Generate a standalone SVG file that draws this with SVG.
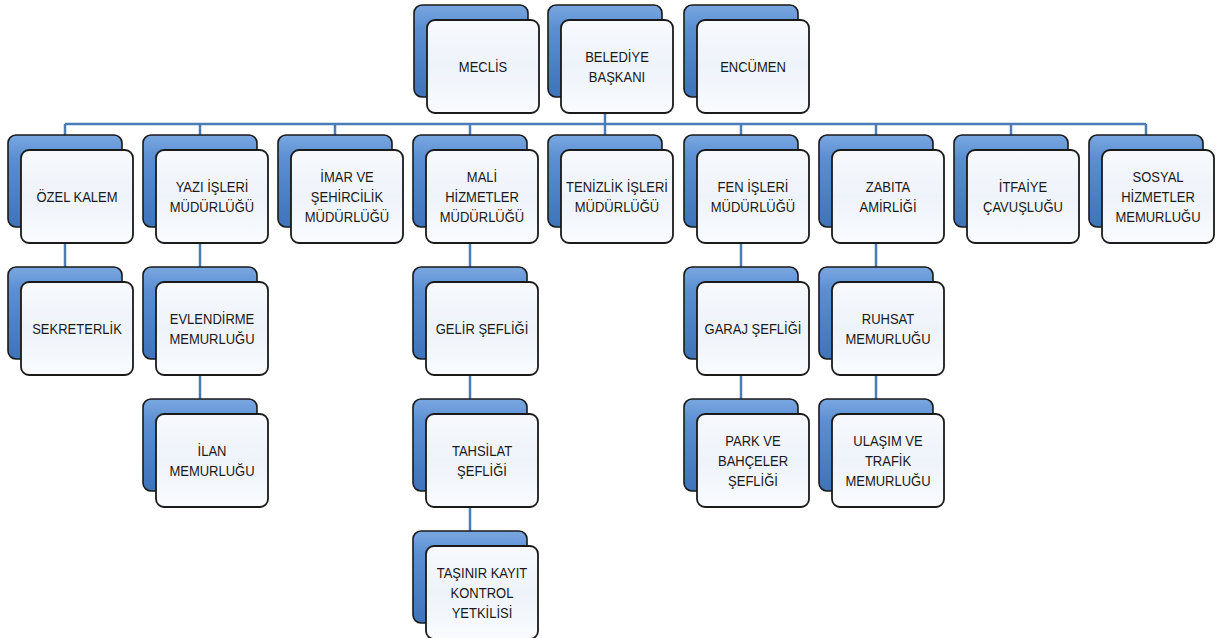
<svg xmlns="http://www.w3.org/2000/svg" width="1221" height="638" viewBox="0 0 1221 638">
<defs>
<linearGradient id="gBack" x1="0" y1="0" x2="0" y2="1">
<stop offset="0" stop-color="#7aa7e0"/>
<stop offset="0.25" stop-color="#5b8fd2"/>
<stop offset="1" stop-color="#3f73ba"/>
</linearGradient>
<linearGradient id="gFront" x1="0" y1="0" x2="0" y2="1">
<stop offset="0" stop-color="#f7f9fd"/>
<stop offset="0.5" stop-color="#eef3fa"/>
<stop offset="1" stop-color="#f9fbfe"/>
</linearGradient>
<style>
.back{fill:url(#gBack);stroke:#1a1a1a;stroke-width:1.6}
.front{fill:url(#gFront);stroke:#1a1a1a;stroke-width:1.8}
.lbl{font-family:"Liberation Sans",Arial,sans-serif;font-size:15.5px;fill:#1a1a1a;text-anchor:middle}
.con{stroke:#4a7db8;stroke-width:2.5;fill:none}
</style>
</defs>
<rect width="1221" height="638" fill="#ffffff"/>
<g id="connectors">
<path class="con" d="M605 113V124M65 124H1146M65 124V135M200 124V135M335 124V135M470 124V135M605 124V135M741 124V135M876 124V135M1011 124V135M1146 124V135"/>
<path class="con" d="M65 243V267M200 243V267M200 375V399M470 243V267M470 375V399M470 507V531M741 243V267M741 375V399M876 243V267M876 375V399"/>
</g>
<g id="meclis"><rect class="back" x="414" y="5" width="114" height="92" rx="8"/><rect class="front" x="427" y="20" width="112" height="93" rx="8"/><text class="lbl" transform="translate(483 66.5) scale(0.84 1)"><tspan x="0" y="5.5">MECLİS</tspan></text></g>
<g id="belediye-baskani"><rect class="back" x="548" y="5" width="114" height="92" rx="8"/><rect class="front" x="561" y="20" width="112" height="93" rx="8"/><text class="lbl" transform="translate(617 66.5) scale(0.84 1)"><tspan x="0" y="-4.5">BELEDİYE</tspan><tspan x="0" y="15.5">BAŞKANI</tspan></text></g>
<g id="encumen"><rect class="back" x="684" y="5" width="114" height="92" rx="8"/><rect class="front" x="697" y="20" width="112" height="93" rx="8"/><text class="lbl" transform="translate(753 66.5) scale(0.84 1)"><tspan x="0" y="5.5">ENCÜMEN</tspan></text></g>

<g id="ozel-kalem"><rect class="back" x="8" y="135" width="114" height="92" rx="8"/><rect class="front" x="21" y="150" width="112" height="93" rx="8"/><text class="lbl" transform="translate(77 196.5) scale(0.84 1)"><tspan x="0" y="5.5">ÖZEL KALEM</tspan></text></g>
<g id="yazi-isleri"><rect class="back" x="143" y="135" width="114" height="92" rx="8"/><rect class="front" x="156" y="150" width="112" height="93" rx="8"/><text class="lbl" transform="translate(212 196.5) scale(0.84 1)"><tspan x="0" y="-4.5">YAZI İŞLERİ</tspan><tspan x="0" y="15.5">MÜDÜRLÜĞÜ</tspan></text></g>
<g id="imar"><rect class="back" x="278" y="135" width="114" height="92" rx="8"/><rect class="front" x="291" y="150" width="112" height="93" rx="8"/><text class="lbl" transform="translate(347 196.5) scale(0.84 1)"><tspan x="0" y="-14.5">İMAR VE</tspan><tspan x="0" y="5.5">ŞEHİRCİLİK</tspan><tspan x="0" y="25.5">MÜDÜRLÜĞÜ</tspan></text></g>
<g id="mali-hizmetler"><rect class="back" x="413" y="135" width="114" height="92" rx="8"/><rect class="front" x="426" y="150" width="112" height="93" rx="8"/><text class="lbl" transform="translate(482 196.5) scale(0.84 1)"><tspan x="0" y="-14.5">MALİ</tspan><tspan x="0" y="5.5">HİZMETLER</tspan><tspan x="0" y="25.5">MÜDÜRLÜĞÜ</tspan></text></g>
<g id="temizlik"><rect class="back" x="548" y="135" width="114" height="92" rx="8"/><rect class="front" x="561" y="150" width="112" height="93" rx="8"/><text class="lbl" transform="translate(617 196.5) scale(0.84 1)"><tspan x="0" y="-4.5">TENİZLİK İŞLERİ</tspan><tspan x="0" y="15.5">MÜDÜRLÜĞÜ</tspan></text></g>
<g id="fen-isleri"><rect class="back" x="684" y="135" width="114" height="92" rx="8"/><rect class="front" x="697" y="150" width="112" height="93" rx="8"/><text class="lbl" transform="translate(753 196.5) scale(0.84 1)"><tspan x="0" y="-4.5">FEN İŞLERİ</tspan><tspan x="0" y="15.5">MÜDÜRLÜĞÜ</tspan></text></g>
<g id="zabita"><rect class="back" x="819" y="135" width="114" height="92" rx="8"/><rect class="front" x="832" y="150" width="112" height="93" rx="8"/><text class="lbl" transform="translate(888 196.5) scale(0.84 1)"><tspan x="0" y="-4.5">ZABITA</tspan><tspan x="0" y="15.5">AMİRLİĞİ</tspan></text></g>
<g id="itfaiye"><rect class="back" x="954" y="135" width="114" height="92" rx="8"/><rect class="front" x="967" y="150" width="112" height="93" rx="8"/><text class="lbl" transform="translate(1023 196.5) scale(0.84 1)"><tspan x="0" y="-4.5">İTFAİYE</tspan><tspan x="0" y="15.5">ÇAVUŞLUĞU</tspan></text></g>
<g id="sosyal"><rect class="back" x="1089" y="135" width="114" height="92" rx="8"/><rect class="front" x="1102" y="150" width="112" height="93" rx="8"/><text class="lbl" transform="translate(1158 196.5) scale(0.84 1)"><tspan x="0" y="-14.5">SOSYAL</tspan><tspan x="0" y="5.5">HİZMETLER</tspan><tspan x="0" y="25.5">MEMURLUĞU</tspan></text></g>

<g id="sekreterlik"><rect class="back" x="8" y="267" width="114" height="92" rx="8"/><rect class="front" x="21" y="282" width="112" height="93" rx="8"/><text class="lbl" transform="translate(77 328.5) scale(0.84 1)"><tspan x="0" y="5.5">SEKRETERLİK</tspan></text></g>
<g id="evlendirme"><rect class="back" x="143" y="267" width="114" height="92" rx="8"/><rect class="front" x="156" y="282" width="112" height="93" rx="8"/><text class="lbl" transform="translate(212 328.5) scale(0.84 1)"><tspan x="0" y="-4.5">EVLENDİRME</tspan><tspan x="0" y="15.5">MEMURLUĞU</tspan></text></g>
<g id="gelir"><rect class="back" x="413" y="267" width="114" height="92" rx="8"/><rect class="front" x="426" y="282" width="112" height="93" rx="8"/><text class="lbl" transform="translate(482 328.5) scale(0.84 1)"><tspan x="0" y="5.5">GELİR ŞEFLİĞİ</tspan></text></g>
<g id="garaj"><rect class="back" x="684" y="267" width="114" height="92" rx="8"/><rect class="front" x="697" y="282" width="112" height="93" rx="8"/><text class="lbl" transform="translate(753 328.5) scale(0.84 1)"><tspan x="0" y="5.5">GARAJ ŞEFLİĞİ</tspan></text></g>
<g id="ruhsat"><rect class="back" x="819" y="267" width="114" height="92" rx="8"/><rect class="front" x="832" y="282" width="112" height="93" rx="8"/><text class="lbl" transform="translate(888 328.5) scale(0.84 1)"><tspan x="0" y="-4.5">RUHSAT</tspan><tspan x="0" y="15.5">MEMURLUĞU</tspan></text></g>

<g id="ilan"><rect class="back" x="143" y="399" width="114" height="92" rx="8"/><rect class="front" x="156" y="414" width="112" height="93" rx="8"/><text class="lbl" transform="translate(212 460.5) scale(0.84 1)"><tspan x="0" y="-4.5">İLAN</tspan><tspan x="0" y="15.5">MEMURLUĞU</tspan></text></g>
<g id="tahsilat"><rect class="back" x="413" y="399" width="114" height="92" rx="8"/><rect class="front" x="426" y="414" width="112" height="93" rx="8"/><text class="lbl" transform="translate(482 460.5) scale(0.84 1)"><tspan x="0" y="-4.5">TAHSİLAT</tspan><tspan x="0" y="15.5">ŞEFLİĞİ</tspan></text></g>
<g id="park"><rect class="back" x="684" y="399" width="114" height="92" rx="8"/><rect class="front" x="697" y="414" width="112" height="93" rx="8"/><text class="lbl" transform="translate(753 460.5) scale(0.84 1)"><tspan x="0" y="-14.5">PARK VE</tspan><tspan x="0" y="5.5">BAHÇELER</tspan><tspan x="0" y="25.5">ŞEFLİĞİ</tspan></text></g>
<g id="ulasim"><rect class="back" x="819" y="399" width="114" height="92" rx="8"/><rect class="front" x="832" y="414" width="112" height="93" rx="8"/><text class="lbl" transform="translate(888 460.5) scale(0.84 1)"><tspan x="0" y="-14.5">ULAŞIM VE</tspan><tspan x="0" y="5.5">TRAFİK</tspan><tspan x="0" y="25.5">MEMURLUĞU</tspan></text></g>

<g id="tasinir"><rect class="back" x="413" y="531" width="114" height="92" rx="8"/><rect class="front" x="426" y="546" width="112" height="93" rx="8"/><text class="lbl" transform="translate(482 592.5) scale(0.84 1)"><tspan x="0" y="-14.5">TAŞINIR KAYIT</tspan><tspan x="0" y="5.5">KONTROL</tspan><tspan x="0" y="25.5">YETKİLİSİ</tspan></text></g>
</svg>
